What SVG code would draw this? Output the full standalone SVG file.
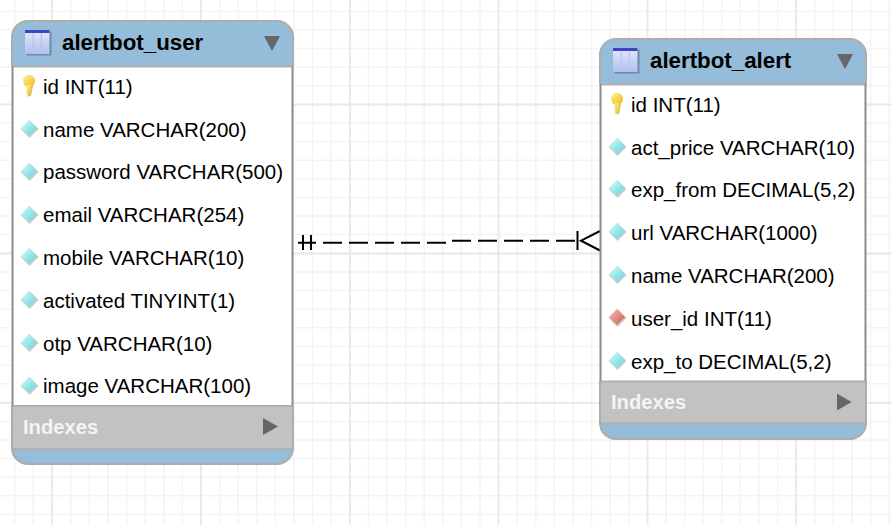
<svg xmlns="http://www.w3.org/2000/svg" width="892" height="525" viewBox="0 0 892 525">
<style>
.mi{stroke:#f4f4f4;stroke-width:1.5;fill:none}
.ma{stroke:#e8e8e8;stroke-width:1.8;fill:none}
.t{font-family:"Liberation Sans",Arial,sans-serif;font-size:20.5px;fill:#000}
.h{font-family:"Liberation Sans",Arial,sans-serif;font-size:22.3px;font-weight:bold;fill:#000}
.ix{font-family:"Liberation Sans",Arial,sans-serif;font-size:20.2px;font-weight:bold;fill:#f4f4f4}
.line{stroke:#000;stroke-width:2;fill:none}
.frame{fill:none;stroke:#adadad;stroke-width:2}
.side{stroke:#8c8c8c;stroke-width:2;fill:none}
.sep{stroke:#b0b0b0;stroke-width:2;fill:none}
.tri{fill:#666}
</style>
<defs>
<linearGradient id="dia" x1="0" y1="0" x2="1" y2="1"><stop offset="0" stop-color="#d2fdfd"/><stop offset="1" stop-color="#62d0d8"/></linearGradient>
<linearGradient id="red" x1="0" y1="0" x2="1" y2="1"><stop offset="0" stop-color="#f6c0b8"/><stop offset="1" stop-color="#cc5a50"/></linearGradient>
<linearGradient id="key" x1="0" y1="0" x2="1" y2="1"><stop offset="0" stop-color="#fff29a"/><stop offset="1" stop-color="#ecbc10"/></linearGradient>
<linearGradient id="tbl" x1="0" y1="0" x2="0" y2="1"><stop offset="0" stop-color="#e4e9fa"/><stop offset="1" stop-color="#b0c0ec"/></linearGradient>
<g id="ic-col"><path d="M0-9L9 0L0 9L-9 0Z" fill="#999" opacity=".5" transform="translate(.6 1)"/><path d="M0-8L8 0L0 8L-8 0Z" fill="url(#dia)"/></g>
<g id="ic-fk"><path d="M0-9L9 0L0 9L-9 0Z" fill="#999" opacity=".5" transform="translate(.6 1)"/><path d="M0-8L8 0L0 8L-8 0Z" fill="url(#red)"/></g>
<g id="ic-key"><path d="M-2 1L-1.5 11.5L2 11L4 1Z" fill="#c4c0a8"/><ellipse cx="0" cy="-4" rx="6" ry="6.3" fill="url(#key)"/><path d="M-2.6 0H2.6L2.2 9L0 11.2L-2.2 9Z" fill="url(#key)"/></g>
<g id="ic-tbl">
<rect x="1.5" y="1.5" width="25" height="24" fill="#5c6f8f" opacity=".65"/>
<rect x="0" y="0" width="24.5" height="24" fill="url(#tbl)"/>
<rect x="0" y="0" width="24.5" height="3" fill="#3c46c0"/>
<path d="M8.2 3V24M16.4 3V24" stroke="#b4c2ec" stroke-width="1.2" fill="none"/>
</g>
</defs>
<rect width="892" height="525" fill="#fff"/>
<g id="grid">
<path class="mi" d="M14.5 0V525M33.2 0V525M70.8 0V525M89.4 0V525M108 0V525M126.6 0V525M145.2 0V525M163.8 0V525M182.4 0V525M219.6 0V525M238.2 0V525M256.8 0V525M275.4 0V525M294 0V525M312.6 0V525M331.2 0V525M368.4 0V525M387 0V525M405.6 0V525M424.2 0V525M442.8 0V525M461.4 0V525M480 0V525M517.2 0V525M535.8 0V525M554.4 0V525M573 0V525M591.6 0V525M610.2 0V525M628.8 0V525M666 0V525M684.6 0V525M703.2 0V525M721.8 0V525M740.4 0V525M759 0V525M777.6 0V525M814.8 0V525M833.4 0V525M852 0V525M870.6 0V525M889.2 0V525"/>
<path class="mi" d="M0 11.5H892M0 30H892M0 48.6H892M0 67.2H892M0 85.8H892M0 123H892M0 141.6H892M0 160.2H892M0 178.8H892M0 197.4H892M0 216H892M0 234.6H892M0 272H892M0 290.6H892M0 309.2H892M0 327.8H892M0 346.4H892M0 365H892M0 383.8H892M0 421.5H892M0 440H892M0 458.6H892M0 477.2H892M0 495.8H892M0 514.4H892"/>
<path class="ma" d="M52 0V525M201 0V525M350 0V525M498.5 0V525M647.5 0V525M796 0V525"/>
<path class="ma" d="M0 104.5H892M0 253.5H892M0 402.8H892"/>
</g>
<g id="connectors">
<path class="line" d="M298 242.7H316M303 235V250M311 235V250"/>
<path class="line" d="M323 242.7H342M349 242.7H368M375 242.7H394M401 242.7H420M427 242.7H446M452 240.7H471M478 240.7H497M504 240.7H523M530 240.7H549M556 240.7H575"/>
<path class="line" d="M577.5 231V250M600 231L581 240.7L600 250.5"/>
</g>
<g id="alertbot_user">
<path d="M28 21H277A16 16 0 0 1 293 37V66H12V37A16 16 0 0 1 28 21Z" fill="#95bcd8"/>
<rect x="12" y="66" width="281" height="340" fill="#fff"/>
<rect x="12" y="406" width="281" height="43" fill="#c2c2c2"/>
<path d="M12 449H293V448A16 16 0 0 1 277 464H28A16 16 0 0 1 12 448Z" fill="#95bcd8"/>
<path class="sep" d="M12 66.5H293M12 406H293M12 449H293"/>
<path class="side" d="M12.5 66V406M292.5 66V406"/>
<path class="frame" d="M12 66V37A16 16 0 0 1 28 21H277A16 16 0 0 1 293 37V66M12 406V448A16 16 0 0 0 28 464H277A16 16 0 0 0 293 448V406"/>
<use href="#ic-tbl" x="25" y="30"/>
<text class="h" x="62" y="50">alertbot_user</text>
<path class="tri" d="M264 36H280L272 51Z"/>
<use href="#ic-key" x="29" y="85"/>
<text class="t" x="43" y="94">id INT(11)</text>
<use href="#ic-col" x="29" y="128"/><text class="t" x="43" y="137">name VARCHAR(200)</text>
<use href="#ic-col" x="29" y="171"/><text class="t" x="43" y="179">password VARCHAR(500)</text>
<use href="#ic-col" x="29" y="214"/><text class="t" x="43" y="222">email VARCHAR(254)</text>
<use href="#ic-col" x="29" y="256"/><text class="t" x="43" y="265">mobile VARCHAR(10)</text>
<use href="#ic-col" x="29" y="299"/><text class="t" x="43" y="308">activated TINYINT(1)</text>
<use href="#ic-col" x="29" y="342"/><text class="t" x="43" y="351">otp VARCHAR(10)</text>
<use href="#ic-col" x="29" y="385"/><text class="t" x="43" y="393">image VARCHAR(100)</text>
<text class="ix" x="23" y="434">Indexes</text>
<path class="tri" d="M263 418L278 426.5L263 435Z"/>
</g>
<g id="alertbot_alert">
<path d="M616 39H850A16 16 0 0 1 866 55V84H600V55A16 16 0 0 1 616 39Z" fill="#95bcd8"/>
<rect x="600" y="84" width="266" height="297" fill="#fff"/>
<rect x="600" y="381" width="266" height="42" fill="#c2c2c2"/>
<path d="M600 423H866V423A16 16 0 0 1 850 439H616A16 16 0 0 1 600 423Z" fill="#95bcd8"/>
<path class="sep" d="M600 84.5H866M600 381.5H866M600 423.5H866"/>
<path class="side" d="M600.5 84V381M865.5 84V381"/>
<path class="frame" d="M600 84V55A16 16 0 0 1 616 39H850A16 16 0 0 1 866 55V84M600 381V423A16 16 0 0 0 616 439H850A16 16 0 0 0 866 423V381"/>
<use href="#ic-tbl" x="613" y="48"/>
<text class="h" x="650" y="68">alertbot_alert</text>
<path class="tri" d="M837 54H853L845 69Z"/>
<use href="#ic-key" x="617" y="103"/>
<text class="t" x="631" y="112">id INT(11)</text>
<use href="#ic-col" x="617" y="146"/><text class="t" x="631" y="155">act_price VARCHAR(10)</text>
<use href="#ic-col" x="617" y="188"/><text class="t" x="631" y="197">exp_from DECIMAL(5,2)</text>
<use href="#ic-col" x="617" y="231"/><text class="t" x="631" y="240">url VARCHAR(1000)</text>
<use href="#ic-col" x="617" y="274"/><text class="t" x="631" y="283">name VARCHAR(200)</text>
<use href="#ic-fk" x="617" y="317"/><text class="t" x="631" y="326">user_id INT(11)</text>
<use href="#ic-col" x="617" y="360"/><text class="t" x="631" y="369">exp_to DECIMAL(5,2)</text>
<text class="ix" x="611" y="409">Indexes</text>
<path class="tri" d="M837 393.5L851.5 402L837 410.5Z"/>
</g>
</svg>
